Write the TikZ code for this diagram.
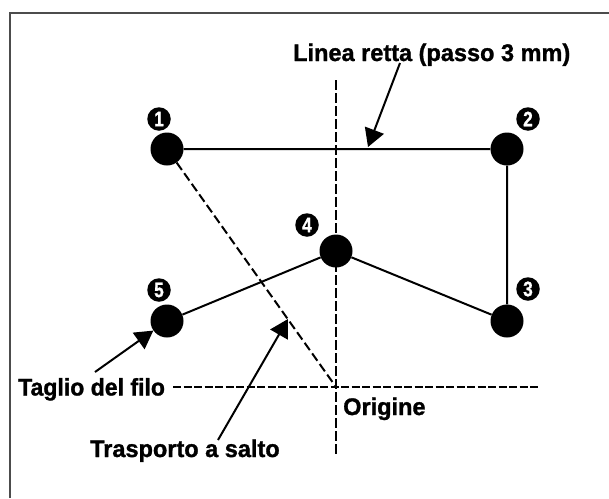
\documentclass[tikz,border=0pt]{standalone}
\usepackage{fontspec}
\setsansfont{Liberation Sans}[BoldFeatures={FakeBold=1.2}]
\usetikzlibrary{arrows.meta}

\newcommand{\narrow}[2][0.98]{\scalebox{#1}[1]{#2}}

\begin{document}
\begin{tikzpicture}[x=1pt, y=-1pt, >={Triangle[length=18pt, width=20pt]},
  dot/.style={circle, fill=black, minimum size=33pt, inner sep=0pt},
  numlabel/.style={circle, fill=black, text=white, minimum size=23.5pt,
    inner sep=0pt, font=\sffamily\bfseries\fontsize{21}{21}\selectfont},
  lbl/.style={font=\sffamily\bfseries\fontsize{24}{28}\selectfont,
    inner sep=0pt, anchor=base west},
  seam/.style={line width=2pt},
  pointer/.style={line width=2pt, ->}]
  \useasboundingbox (0,0) rectangle (609,498);
  % frame
  \draw[line width=2pt, black!70] (10,498) -- (10,13) -- (609,13);
  % axes
  \coordinate (o) at (336,387);
  \draw[line width=1.6pt, dash pattern=on 10pt off 3pt] (336,80) -- (336,456);
  \node[lbl] (tag) at (18,395.5) {\narrow[0.96]{Taglio del filo}};
  \coordinate (xend) at (540,387);
  \draw[line width=2pt, dash pattern=on 8pt off 2.5pt] (173,387) -- (xend);
  \node[lbl] (ori) at (343,415) {\narrow{Origine}};
  % points
  \foreach \n/\x/\y/\lx/\ly in {1/167/149/159/119, 2/507/149/528/119,
    3/507/321/528/289, 4/336/251/307/225, 5/167/321/159/290} {
    \node[dot] (p\n) at (\x,\y) {};
    \node[numlabel] (n\n) at (\lx,\ly) {\narrow[0.82]{\n}};
  }
  % stitching
  \draw[seam] (p1) -- (p2) -- (p3) -- (p4) -- (p5);
  \draw[seam, dash pattern=on 9pt off 4pt] (p1) -- (o);
  % labels and pointers
  \node[lbl] (lin) at (293,61) {\narrow{Linea retta (passo 3 mm)}};
  \node[lbl] (tra) at (90,457) {\narrow{Trasporto a salto}};
  \coordinate (lintail) at (400,63);
  \coordinate (lintip) at (368,147);
  \coordinate (tagtail) at (95,372);
  \coordinate (tratail) at (218,440);
  \coordinate (tratip) at (288,319);
  \draw[pointer] (lintail) -- (lintip);
  \draw[pointer] (tagtail) -- (p5.215);
  \draw[pointer] (tratail) -- (tratip);
\end{tikzpicture}
\end{document}
